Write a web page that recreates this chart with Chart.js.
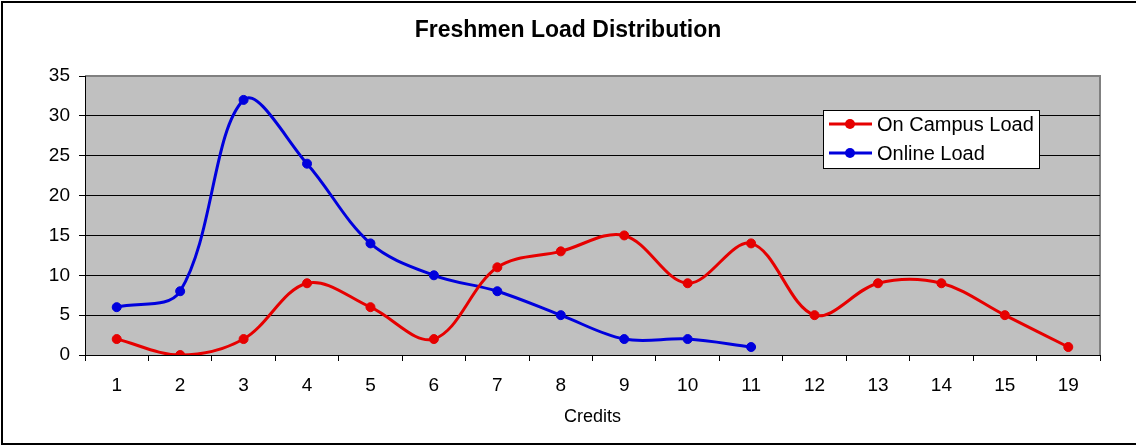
<!DOCTYPE html>
<html>
<head>
<meta charset="utf-8">
<script src="https://cdn.jsdelivr.net/npm/chart.js@4.4.1/dist/chart.umd.min.js"></script>
<style>
html,body{margin:0;padding:0;background:#fff;}
#wrap{width:1136px;height:446px;position:relative;}
</style>
</head>
<body>
<div id="wrap"><canvas id="c" width="1136" height="446"></canvas></div>
<script>
const categories = ['1','2','3','4','5','6','7','8','9','10','11','12','13','14','15','19'];
const onCampusLoad = [2,0,2,9,6,2,11,13,15,9,14,5,9,9,5,1];
const onlineLoad = [6,8,32,24,14,10,8,5,2,2,1,null,null,null,null,null];
const yTicks = [0,5,10,15,20,25,30,35];
const seriesNames = ['On Campus Load','Online Load'];
const chartTitle = 'Freshmen Load Distribution';
const xTitle = 'Credits';

const RED = '#e60000';
const BLUE = '#0000dd';
const FONT = "'Liberation Sans', Arial, sans-serif";
Chart.defaults.font.family = FONT;
Chart.defaults.color = '#000';

const bgPlugin = {
  id: 'bg',
  beforeDraw(chart) {
    const ctx = chart.ctx, a = chart.chartArea;
    ctx.save();
    ctx.fillStyle = '#fff';
    ctx.fillRect(0,0,chart.width,chart.height);
    ctx.strokeStyle = '#000';
    ctx.lineWidth = 2;
    ctx.strokeRect(2,2,chart.width+20,442);
    ctx.fillStyle = '#c0c0c0';
    ctx.fillRect(a.left,a.top,a.right-a.left,a.bottom-a.top);
    ctx.strokeStyle = '#808080';
    ctx.lineWidth = 2;
    ctx.beginPath();
    ctx.moveTo(a.left, a.top);
    ctx.lineTo(a.right, a.top);
    ctx.lineTo(a.right, a.bottom);
    ctx.stroke();
    ctx.restore();
  }
};

const legendPlugin = {
  id: 'customLegend',
  afterDraw(chart) {
    const ctx = chart.ctx;
    ctx.save();
    ctx.fillStyle = '#fff';
    ctx.fillRect(823.5,110.5,216,58);
    ctx.strokeStyle = '#000';
    ctx.lineWidth = 1;
    ctx.strokeRect(823.5,110.5,216,58);
    const rows = [124,153];
    chart.data.datasets.forEach((ds,i) => {
      const y = rows[i];
      ctx.strokeStyle = ds.borderColor;
      ctx.lineWidth = 3;
      ctx.beginPath();
      ctx.moveTo(829,y); ctx.lineTo(872,y); ctx.stroke();
      ctx.fillStyle = ds.borderColor;
      ctx.beginPath(); ctx.arc(850,y,5,0,Math.PI*2); ctx.fill();
      ctx.fillStyle = '#000';
      ctx.font = '20px ' + FONT;
      ctx.textBaseline = 'middle';
      ctx.textAlign = 'left';
      ctx.fillText(ds.label, 877, y+1);
    });
    ctx.restore();
  }
};

new Chart(document.getElementById('c'), {
  type: 'line',
  data: {
    labels: categories,
    datasets: [
      {label: seriesNames[0], data: onCampusLoad, borderColor: RED, backgroundColor: RED,
       pointBackgroundColor: RED, pointBorderColor: RED, pointRadius: 4.5, pointBorderWidth: 1,
       borderWidth: 3, tension: 0.35, fill: false},
      {label: seriesNames[1], data: onlineLoad, borderColor: BLUE, backgroundColor: BLUE,
       pointBackgroundColor: BLUE, pointBorderColor: BLUE, pointRadius: 4.5, pointBorderWidth: 1,
       borderWidth: 3, tension: 0.35, fill: false}
    ]
  },
  options: {
    responsive: false,
    animation: false,
    layout: {padding: {left: 0, right: 0, top: 0, bottom: 0}},
    plugins: {
      legend: {display: false},
      tooltip: {enabled: false},
      title: {display: true, text: chartTitle, color: '#000',
        font: {family: FONT, size: 23, weight: 'bold'},
        padding: {top: 17, bottom: 31.4}}
    },
    scales: {
      x: {
        type: 'category',
        offset: true,
        afterFit(s) { s.height = 91; },
        grid: {display: true, drawOnChartArea: false, drawTicks: true, offset: true,
               tickLength: 6, tickColor: '#000', color: '#000'},
        border: {display: true, color: '#000', width: 1},
        ticks: {font: {size: 19}, color: '#000', padding: 13, maxRotation: 0, autoSkip: false},
        title: {display: true, text: xTitle, color: '#000', font: {size: 18}, padding: {top: 0, bottom: 18}}
      },
      y: {
        min: 0, max: 35,
        afterFit(s) { s.width = 85; },
        afterBuildTicks(s) { s.ticks = yTicks.map(v => ({value: v})); },
        grid: {color: (c) => (c.tick && c.tick.value === 35) ? '#808080' : '#000',
               lineWidth: 1, tickLength: 6, tickColor: '#000', drawTicks: true},
        border: {display: true, color: '#000', width: 1},
        ticks: {font: {size: 19}, color: '#000', padding: 9, stepSize: 5}
      },
      rightSpace: {
        type: 'linear',
        position: 'right',
        display: true,
        min: 0, max: 35,
        afterFit(s) { s.width = 36; },
        grid: {display: false, drawOnChartArea: false, drawTicks: false},
        border: {display: false},
        ticks: {display: false}
      }
    }
  },
  plugins: [bgPlugin, legendPlugin]
});
</script>
</body>
</html>
